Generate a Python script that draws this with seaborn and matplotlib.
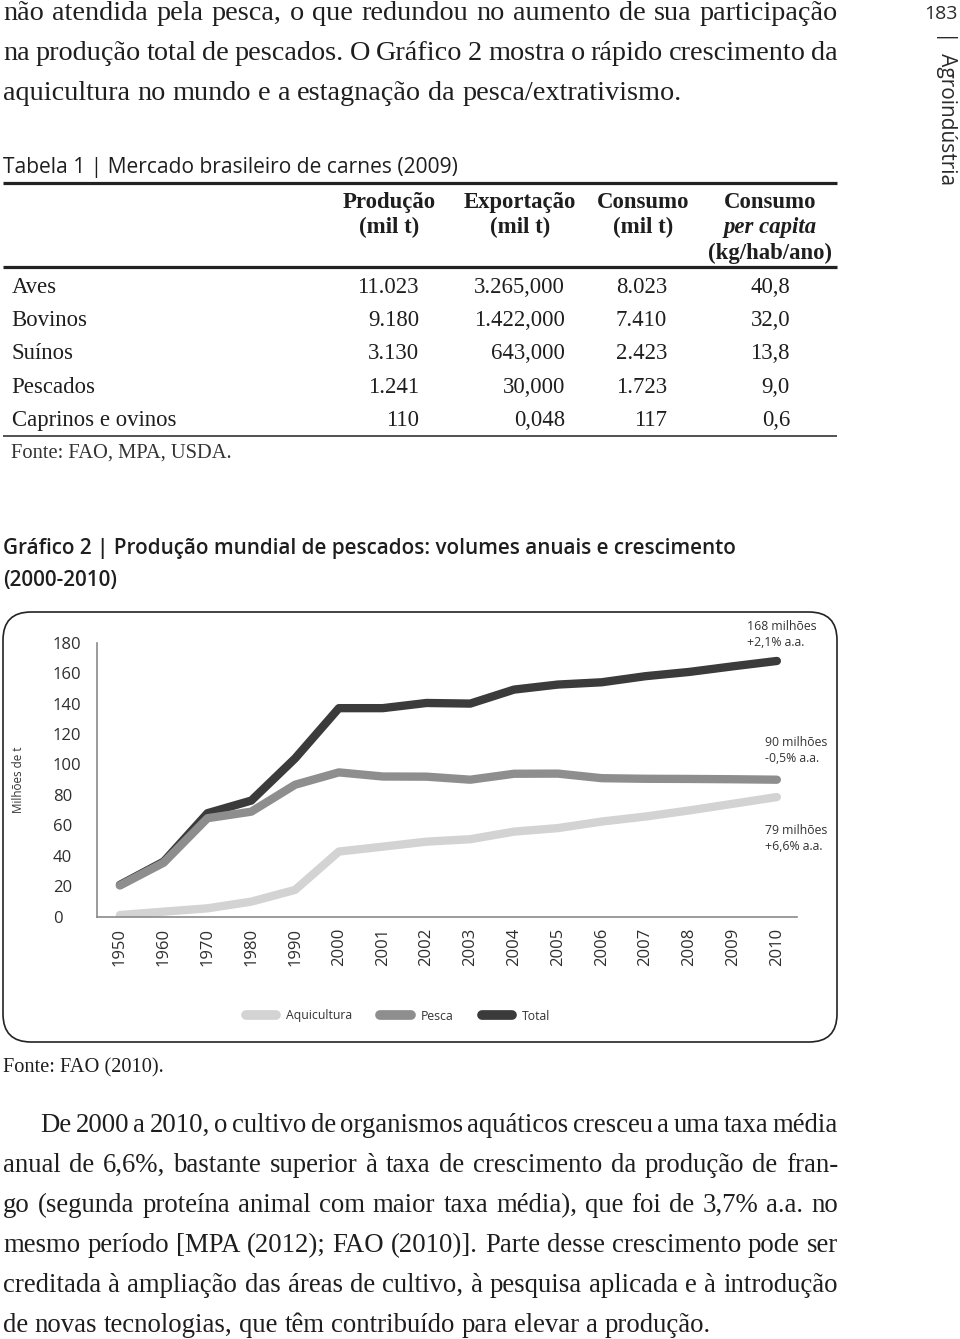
#!/usr/bin/env python3
"""
Página 183 (Agroindústria): Tabela 1 e Gráfico 2 - produção mundial de pescados.
"""

import matplotlib
matplotlib.use('Agg')
import matplotlib.pyplot as plt
from matplotlib.patches import FancyBboxPatch
from matplotlib.lines import Line2D
import seaborn as sns
import pandas as pd
import numpy as np

# ------------------------------
# Dados do gráfico (milhões de t)
# ------------------------------
anos = ['1950', '1960', '1970', '1980', '1990', '2000', '2001', '2002',
        '2003', '2004', '2005', '2006', '2007', '2008', '2009', '2010']
aquicultura = [1.1, 3.3, 5.5, 9.9, 17.6, 42.8, 46.0, 49.3,
               50.9, 55.9, 58.2, 62.5, 65.8, 69.8, 74.2, 78.6]
pesca = [20.5, 35.5, 64.7, 69.0, 86.7, 94.8, 92.1, 92.0,
         90.0, 93.9, 94.0, 91.0, 90.6, 90.5, 90.3, 90.0]
total = [20.9, 36.2, 68.0, 76.3, 104.0, 137.0, 137.0, 140.4,
         140.0, 149.2, 152.5, 154.0, 158.0, 160.8, 164.5, 168.0]
crescimento = ['+2,1% a.a.', '-0,5% a.a.', '+6,6% a.a.']
y_ticks = [0, 20, 40, 60, 80, 100, 120, 140, 160, 180]

# ------------------------------
# Dados da tabela
# ------------------------------
tab_linhas = ['Aves', 'Bovinos', 'Suínos', 'Pescados', 'Caprinos e ovinos']
producao = ['11.023', '9.180', '3.130', '1.241', '110']
exportacao = ['3.265,000', '1.422,000', '643,000', '30,000', '0,048']
consumo = ['8.023', '7.410', '2.423', '1.723', '117']
per_capita = ['40,8', '32,0', '13,8', '9,0', '0,6']

texto_topo = [
    'não atendida pela pesca, o que redundou no aumento de sua participação',
    'na produção total de pescados. O Gráfico 2 mostra o rápido crescimento da',
    'aquicultura no mundo e a estagnação da pesca/extrativismo.',
]
texto_base = [
    'De 2000 a 2010, o cultivo de organismos aquáticos cresceu a uma taxa média',
    'anual de 6,6%, bastante superior à taxa de crescimento da produção de fran-',
    'go (segunda proteína animal com maior taxa média), que foi de 3,7% a.a. no',
    'mesmo período [MPA (2012); FAO (2010)]. Parte desse crescimento pode ser',
    'creditada à ampliação das áreas de cultivo, à pesquisa aplicada e à introdução',
    'de novas tecnologias, que têm contribuído para elevar a produção.',
]

COR_TOTAL = '#3b3b3b'
COR_PESCA = '#8e8e8e'
COR_AQUI = '#d3d3d3'
EIXO = '#8a8a8a'
TXT = '#1e1e1e'
SERIF = ['Liberation Serif', 'DejaVu Serif']
SANS = ['Open Sans', 'DejaVu Sans']

sns.set_style('white')
plt.rcParams['font.family'] = SANS

W, H = 960, 1339
fig = plt.figure(figsize=(W / 100, H / 100), dpi=100, facecolor='white')
renderer = fig.canvas.get_renderer()

# eixo "página" em pixels (y para baixo)
page = fig.add_axes([0, 0, 1, 1], zorder=0)
page.set_xlim(0, W)
page.set_ylim(H, 0)
page.axis('off')


def ajustar(t, largura):
    """Ajusta o tamanho da fonte para que o texto ocupe a largura dada."""
    w = t.get_window_extent(renderer).width
    t.set_fontsize(t.get_fontsize() * largura / w)
    return t.get_fontsize()


def linha(texto, y, x0, x1, tamanho, justificar=True):
    """Escreve uma linha de texto corrido, justificada entre x0 e x1."""
    objs = [page.text(x0, y, p, fontsize=tamanho, family=SERIF, color=TXT,
                      ha='left', va='baseline') for p in texto.split()]
    larg = [o.get_window_extent(renderer).width for o in objs]
    if justificar and len(objs) > 1:
        gap = (x1 - x0 - sum(larg)) / (len(objs) - 1)
    else:
        gap = 0.25 * tamanho * 100 / 72
    x = x0
    for o, w in zip(objs, larg):
        o.set_x(x)
        x += w + gap


# ------------------------------
# Texto corrido do topo
# ------------------------------
tmp = page.text(0, 0, texto_topo[-1], fontsize=17, family=SERIF)
tam_topo = ajustar(tmp, 680)
tmp.remove()
for i, t in enumerate(texto_topo):
    linha(t, 20 + 40 * i, 3, 838, tam_topo, justificar=(i < len(texto_topo) - 1))

# cabeçalho lateral
page.text(941, 14, '183', fontsize=14, color='#2a2a2a', ha='center', va='center')
page.text(946, 31, '|  Agroindústria', fontsize=15, color='#2a2a2a',
          rotation=270, ha='center', va='top')

# ------------------------------
# Tabela 1
# ------------------------------
t = page.text(3, 173, 'Tabela 1 | Mercado brasileiro de carnes (2009)',
              fontsize=14, color=TXT, ha='left', va='baseline')
ajustar(t, 459)

page.hlines([183, 267], 3, 837, color='#222222', lw=2.3)
page.hlines(436, 3, 837, color='#333333', lw=1.2)

cab_x = [389, 520, 643, 770]
cabecalhos = [['Produção', '(mil t)'], ['Exportação', '(mil t)'],
              ['Consumo', '(mil t)'], ['Consumo', 'per capita', '(kg/hab/ano)']]
tmp = page.text(0, 0, 'Produção', fontsize=15, family=SERIF, fontweight='bold')
tam_cab = ajustar(tmp, 93)
tmp.remove()
for cx, linhas_cab in zip(cab_x, cabecalhos):
    for j, c in enumerate(linhas_cab):
        estilo = 'italic' if c == 'per capita' else 'normal'
        page.text(cx, 208 + 25.5 * j, c, fontsize=tam_cab, family=SERIF,
                  fontweight='bold', fontstyle=estilo, color=TXT,
                  ha='center', va='baseline')

tmp = page.text(0, 0, 'Caprinos e ovinos', fontsize=15, family=SERIF)
tam_lin = ajustar(tmp, 165)
tmp.remove()
col_dir = [419, 565, 667, 790]
for i, nome in enumerate(tab_linhas):
    yb = 292.7 + 33.3 * i
    page.text(11.7, yb, nome, fontsize=tam_lin, family=SERIF, color=TXT,
              ha='left', va='baseline')
    for xd, col in zip(col_dir, [producao, exportacao, consumo, per_capita]):
        page.text(xd, yb, col[i], fontsize=tam_lin, family=SERIF, color=TXT,
                  ha='right', va='baseline')

t = page.text(11, 458, 'Fonte: FAO, MPA, USDA.', fontsize=13, family=SERIF,
              color='#333333', ha='left', va='baseline')
ajustar(t, 221)

# ------------------------------
# Gráfico 2
# ------------------------------
t = page.text(3, 554, 'Gráfico 2 | Produção mundial de pescados: volumes anuais e crescimento',
              fontsize=14, fontweight='semibold', color=TXT, ha='left', va='baseline')
tam_tit = ajustar(t, 740)
page.text(3, 586, '(2000-2010)', fontsize=tam_tit, fontweight='semibold',
          color=TXT, ha='left', va='baseline')

caixa = FancyBboxPatch((3, 612), 834, 430, boxstyle='round,pad=0,rounding_size=28',
                       facecolor='none', edgecolor='#222222', lw=1.2, zorder=1)
page.add_patch(caixa)

x0, x1, yb, yt = 96.7, 797, 916.7, 642.7
ax = fig.add_axes([x0 / W, 1 - yb / H, (x1 - x0) / W, (yb - yt) / H], zorder=2)
ax.set_facecolor('none')

df = pd.DataFrame({
    'pos': list(range(len(anos))) * 3,
    'valor': total + pesca + aquicultura,
    'serie': ['Total'] * len(anos) + ['Pesca'] * len(anos) + ['Aquicultura'] * len(anos),
})
cores = {'Total': COR_TOTAL, 'Pesca': COR_PESCA, 'Aquicultura': COR_AQUI}
sns.lineplot(data=df, x='pos', y='valor', hue='serie',
             hue_order=['Total', 'Pesca', 'Aquicultura'], palette=cores,
             linewidth=6, legend=False, ax=ax,
             solid_capstyle='round', solid_joinstyle='round')

ax.set_xlim(-0.53, 15.46)
ax.set_ylim(0, 180)
ax.set_xlabel('')
ax.set_ylabel('')
for s in ['top', 'right']:
    ax.spines[s].set_visible(False)
for s in ['left', 'bottom']:
    ax.spines[s].set_color(EIXO)
    ax.spines[s].set_linewidth(1.2)

ax.set_yticks(y_ticks)
ax.set_yticklabels([str(v) for v in y_ticks])
ax.tick_params(axis='y', direction='in', length=14.4, width=1.1, color=EIXO,
               labelsize=12, labelcolor='#2e2e2e', pad=31.5)
for lbl in ax.get_yticklabels():
    lbl.set_horizontalalignment('left')

ax.set_xticks(range(len(anos)))
ax.set_xticklabels(anos, rotation=90, va='top', ha='center')
ax.set_xticks(np.linspace(0.32, 14.73, len(anos) - 1), minor=True)
ax.tick_params(axis='x', which='major', length=0, labelsize=12,
               labelcolor='#2e2e2e', pad=8)
ax.tick_params(axis='x', which='minor', direction='out', length=5.8,
               width=1.1, color=EIXO)

page.text(18, 780, 'Milhões de t', fontsize=8.4, color='#333333',
          rotation=90, ha='center', va='center')

# rótulos de fim de série
rotulos = [(747, 627, total[-1], crescimento[0]),
           (765, 742, pesca[-1], crescimento[1]),
           (765, 831, aquicultura[-1], crescimento[2])]
for xr, yr, v, cr in rotulos:
    page.text(xr, yr, f'{v:.0f} milhões', fontsize=8.8, color='#333333',
              ha='left', va='center', zorder=3)
    page.text(xr, yr + 16, cr, fontsize=8.8, color='#333333',
              ha='left', va='center', zorder=3)

handles = [Line2D([], [], color=cores[s], lw=7, solid_capstyle='round')
           for s in ['Aquicultura', 'Pesca', 'Total']]
ax.legend(handles, ['Aquicultura', 'Pesca', 'Total'], loc='center',
          bbox_to_anchor=(398 / W, 1 - 1016 / H), bbox_transform=fig.transFigure,
          ncol=3, frameon=False, fontsize=8.8, handlelength=2.5,
          handletextpad=0.8, columnspacing=2.3, labelcolor='#333333')

t = page.text(3, 1072, 'Fonte: FAO (2010).', fontsize=13, family=SERIF,
              color=TXT, ha='left', va='baseline')
ajustar(t, 160)

# ------------------------------
# Texto corrido da base
# ------------------------------
tmp = page.text(0, 0, texto_base[-1], fontsize=17, family=SERIF)
tam_base = ajustar(tmp, 709)
tmp.remove()
for i, t in enumerate(texto_base):
    inicio = 40 if i == 0 else 3
    linha(t, 1132 + 40 * i, inicio, 838, tam_base,
          justificar=(i < len(texto_base) - 1))

fig.savefig('out.png', dpi=100, facecolor='white')
plt.close(fig)
